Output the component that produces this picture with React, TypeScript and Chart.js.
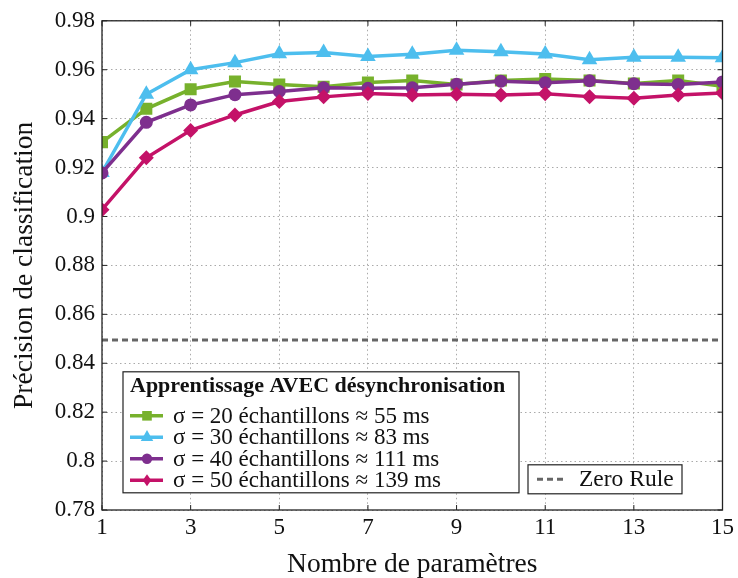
import React, { useEffect, useRef } from "react";
import { Chart, registerables } from "chart.js";

Chart.register(...registerables);

const xValues = [1, 2, 3, 4, 5, 6, 7, 8, 9, 10, 11, 12, 13, 14, 15];
const sigma20 = [0.9304, 0.944, 0.952, 0.9552, 0.954, 0.953, 0.9548, 0.9556, 0.954, 0.9556, 0.9562, 0.9556, 0.9544, 0.9556, 0.9532];
const sigma30 = [0.918, 0.95, 0.96, 0.9629, 0.9665, 0.967, 0.9654, 0.9663, 0.968, 0.9673, 0.9664, 0.9641, 0.9651, 0.9651, 0.9649];
const sigma40 = [0.9178, 0.9385, 0.9456, 0.9498, 0.9511, 0.9526, 0.9524, 0.9526, 0.9541, 0.9553, 0.9547, 0.9555, 0.9543, 0.954, 0.955];
const sigma50 = [0.9028, 0.924, 0.9352, 0.9415, 0.947, 0.9489, 0.9503, 0.9497, 0.95, 0.9497, 0.9502, 0.949, 0.9483, 0.9497, 0.9505];
const zeroRule = 0.8495;

const seriesLabels = [
  "σ = 20 échantillons ≈ 55 ms",
  "σ = 30 échantillons ≈ 83 ms",
  "σ = 40 échantillons ≈ 111 ms",
  "σ = 50 échantillons ≈ 139 ms",
];
const legendTitle = "Apprentissage AVEC désynchronisation";
const zeroRuleLabel = "Zero Rule";
const xTitle = "Nombre de paramètres";
const yTitle = "Précision de classification";

const COLORS = ["rgb(119,177,44)", "rgb(77,190,238)", "rgb(126,47,142)", "rgb(196,18,104)"];
const STYLES = ["rect", "triangle", "circle", "rectRot"];
const RADII = [8.5, 9, 6.5, 7.5];
const FONT = "'Liberation Serif', 'Times New Roman', serif";

function drawMarker(ctx: CanvasRenderingContext2D, style: string, x: number, y: number, r: number, color: string) {
  ctx.save();
  ctx.fillStyle = color;
  ctx.beginPath();
  if (style === "rect") {
    const s = r * Math.SQRT1_2;
    ctx.rect(x - s, y - s, 2 * s, 2 * s);
  } else if (style === "triangle") {
    ctx.moveTo(x, y - r);
    ctx.lineTo(x + r * 0.866, y + r * 0.5);
    ctx.lineTo(x - r * 0.866, y + r * 0.5);
    ctx.closePath();
  } else if (style === "circle") {
    ctx.arc(x, y, r, 0, Math.PI * 2);
  } else {
    ctx.moveTo(x, y - r);
    ctx.lineTo(x + r * 0.7, y);
    ctx.lineTo(x, y + r);
    ctx.lineTo(x - r * 0.7, y);
    ctx.closePath();
  }
  ctx.fill();
  ctx.restore();
}

const framePlugin = {
  id: "frame",
  beforeDatasetsDraw(chart: any) {
    const { ctx, chartArea: a, scales } = chart;
    ctx.save();
    ctx.strokeStyle = "#222";
    ctx.lineWidth = 1;
    const tl = 5;
    scales.y.ticks.forEach((t: any) => {
      const y = scales.y.getPixelForValue(t.value);
      ctx.beginPath();
      ctx.moveTo(a.left, y); ctx.lineTo(a.left + tl, y);
      ctx.moveTo(a.right, y); ctx.lineTo(a.right - tl, y);
      ctx.stroke();
    });
    scales.x.ticks.forEach((t: any) => {
      const x = scales.x.getPixelForValue(t.value);
      ctx.beginPath();
      ctx.moveTo(x, a.bottom); ctx.lineTo(x, a.bottom - tl);
      ctx.moveTo(x, a.top); ctx.lineTo(x, a.top + tl);
      ctx.stroke();
    });
    ctx.restore();
  },
  afterDraw(chart: any) {
    const { ctx, chartArea: a } = chart;
    ctx.save();
    ctx.strokeStyle = "#222";
    ctx.lineWidth = 1.3;
    ctx.strokeRect(a.left, a.top, a.right - a.left, a.bottom - a.top);

    // Main legend
    const bx = a.left + 21, by = a.top + 351, bw = 396, bh = 121;
    ctx.fillStyle = "#fff";
    ctx.fillRect(bx, by, bw, bh);
    ctx.strokeStyle = "#222";
    ctx.lineWidth = 1.2;
    ctx.strokeRect(bx, by, bw, bh);
    ctx.fillStyle = "#111";
    ctx.textBaseline = "middle";
    ctx.textAlign = "left";
    ctx.font = `bold 22px ${FONT}`;
    ctx.fillText(legendTitle, bx + 7, by + 15);
    ctx.font = `23px ${FONT}`;
    for (let i = 0; i < 4; i++) {
      const ry = by + 44 + i * 21.5;
      ctx.strokeStyle = COLORS[i];
      ctx.lineWidth = 3.5;
      ctx.beginPath();
      ctx.moveTo(bx + 7, ry);
      ctx.lineTo(bx + 40, ry);
      ctx.stroke();
      drawMarker(ctx, STYLES[i], bx + 24, ry, RADII[i] * 0.8, COLORS[i]);
      ctx.fillStyle = "#111";
      ctx.fillText(seriesLabels[i], bx + 50, ry + 1);
    }

    // Zero rule legend
    const zx = a.left + 426, zy = a.top + 444, zw = 154, zh = 29;
    ctx.fillStyle = "#fff";
    ctx.fillRect(zx, zy, zw, zh);
    ctx.strokeStyle = "#222";
    ctx.lineWidth = 1.2;
    ctx.strokeRect(zx, zy, zw, zh);
    ctx.strokeStyle = "#666";
    ctx.lineWidth = 3;
    ctx.setLineDash([6, 4]);
    ctx.beginPath();
    ctx.moveTo(zx + 9, zy + zh / 2);
    ctx.lineTo(zx + 38, zy + zh / 2);
    ctx.stroke();
    ctx.setLineDash([]);
    ctx.fillStyle = "#111";
    ctx.font = `23.5px ${FONT}`;
    ctx.fillText(zeroRuleLabel, zx + 51, zy + zh / 2 + 1);
    ctx.restore();
  },
};

export default function App() {
  const ref = useRef<HTMLCanvasElement | null>(null);

  useEffect(() => {
    if (!ref.current) return;
    const series = [sigma20, sigma30, sigma40, sigma50];
    const datasets: any[] = series.map((vals, i) => ({
      label: seriesLabels[i],
      data: xValues.map((x, j) => ({ x, y: vals[j] })),
      borderColor: COLORS[i],
      backgroundColor: COLORS[i],
      borderWidth: 3.5,
      pointStyle: STYLES[i],
      pointRadius: RADII[i],
      pointBorderWidth: 0,
      pointBackgroundColor: COLORS[i],
      tension: 0,
      order: 4 - i,
    }));
    datasets.push({
      label: zeroRuleLabel,
      data: [
        { x: xValues[0], y: zeroRule },
        { x: xValues[xValues.length - 1], y: zeroRule },
      ],
      borderColor: "#666",
      borderWidth: 3,
      borderDash: [6, 4],
      pointRadius: 0,
      order: 10,
    });

    const chart = new Chart(ref.current, {
      type: "line",
      data: { datasets },
      plugins: [framePlugin],
      options: {
        responsive: false,
        animation: false,
        layout: { padding: { top: 18, right: 12, left: 0, bottom: 0 } },
        plugins: { legend: { display: false }, tooltip: { enabled: false } },
        scales: {
          x: {
            type: "linear",
            min: 1,
            max: 15,
            border: { display: false, dash: [1.5, 3] },
            grid: { color: "#aaa", lineWidth: 1, drawTicks: false },
            ticks: {
              stepSize: 2,
              autoSkip: false,
              maxRotation: 0,
              padding: 4,
              color: "#111",
              font: { family: FONT, size: 23 },
            },
            title: {
              display: true,
              text: xTitle,
              color: "#111",
              font: { family: FONT, size: 27.5 },
              padding: { top: 0, bottom: -3 },
            },
            afterFit: (s: any) => { s.height = 68; },
          } as any,
          y: {
            type: "linear",
            min: 0.78,
            max: 0.98,
            border: { display: false, dash: [1.5, 3] },
            grid: { color: "#aaa", lineWidth: 1, drawTicks: false },
            ticks: {
              stepSize: 0.02,
              padding: 7,
              color: "#111",
              font: { family: FONT, size: 23 },
              callback: (v: any) => String(Number(Number(v).toFixed(2))),
            },
            title: {
              display: true,
              text: yTitle,
              color: "#111",
              font: { family: FONT, size: 27.5 },
              padding: { top: 8, bottom: 0 },
            },
            afterFit: (s: any) => { s.width = 102; },
          } as any,
        },
      },
    });
    return () => chart.destroy();
  }, []);

  return (
    <div style={{ position: "fixed", left: 0, top: 0, width: 738, height: 578, background: "#fff" }}>
      <canvas ref={ref} width={738} height={578} />
    </div>
  );
}
